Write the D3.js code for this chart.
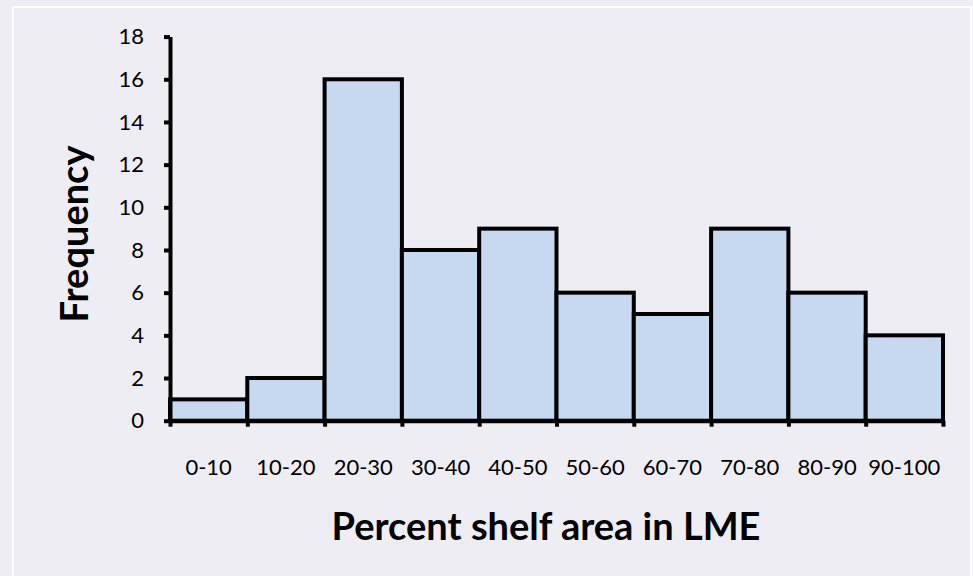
<!DOCTYPE html>
<html lang="en">
<head>
    <meta charset="UTF-8">
    <title>Histogram</title>
    <script src="https://d3js.org/d3.v7.min.js"></script>
    <style>
    body{
        margin: 0;
        background: #eeedf3;
    }
    .axis path,
    .axis line{
        fill: none;
        stroke: black;
        stroke-width: 4px;
    }
    .axis text {
        font-family: Lato, sans-serif;
        font-size: 22px;
        fill: black;
    }
    .bar {
        fill: #c6d9f0;
        stroke: black;
        stroke-width: 4px;
    }
    </style>
</head>
<body>
    <script>
    var width = 973;
    var height = 576;

    // data
    var bins = ["0-10", "10-20", "20-30", "30-40", "40-50", "50-60", "60-70", "70-80", "80-90", "90-100"];
    var counts = [1, 2, 16, 8, 9, 6, 5, 9, 6, 4];
    var yTicks = [0, 2, 4, 6, 8, 10, 12, 14, 16, 18];

    var svg = d3.select("body")
        .append("svg")
        .attr("width", width)
        .attr("height", height);

    // white frame
    svg.append("rect")
        .attr("x", 13)
        .attr("y", 7)
        .attr("width", 958)
        .attr("height", 600)
        .attr("fill", "none")
        .attr("stroke", "white")
        .attr("stroke-width", 2);

    var plotLeft = 170, plotRight = 943, plotTop = 36.6, plotBottom = 420.7;

    var xScale = d3.scaleBand()
        .domain(bins)
        .range([plotLeft, plotRight])
        .padding(0);

    var yScale = d3.scaleLinear()
        .domain([0, 18])
        .range([plotBottom, plotTop]);

    // bars
    svg.selectAll(".bar")
        .data(counts)
        .enter()
        .append("rect")
        .attr("class", "bar")
        .attr("x", function(d, i) { return xScale(bins[i]); })
        .attr("y", function(d) { return yScale(d); })
        .attr("width", xScale.bandwidth())
        .attr("height", function(d) { return plotBottom - yScale(d); });

    // y axis
    var yAxis = d3.axisLeft(yScale)
        .tickValues(yTicks)
        .tickSizeInner(6)
        .tickSizeOuter(0)
        .tickPadding(20);

    svg.append("g")
        .attr("class", "axis")
        .attr("transform", "translate(" + plotLeft + ",0)")
        .call(yAxis);

    // x axis: ticks at bin edges
    var edgeScale = d3.scaleLinear()
        .domain([0, bins.length])
        .range([plotLeft, plotRight]);

    var xAxis = d3.axisBottom(edgeScale)
        .tickValues(d3.range(bins.length + 1))
        .tickSizeInner(6)
        .tickSizeOuter(0)
        .tickFormat("");

    svg.append("g")
        .attr("class", "axis")
        .attr("transform", "translate(0," + plotBottom + ")")
        .call(xAxis);

    // x category labels
    svg.append("g")
        .attr("class", "axis")
        .selectAll("text")
        .data(bins)
        .enter()
        .append("text")
        .attr("x", function(d) { return xScale(d) + xScale.bandwidth() / 2; })
        .attr("y", 475)
        .attr("text-anchor", "middle")
        .text(function(d) { return d; });

    // titles
    svg.append("text")
        .attr("x", 546)
        .attr("y", 540)
        .attr("text-anchor", "middle")
        .attr("font-family", "Lato, sans-serif")
        .attr("font-weight", "bold")
        .attr("font-size", "38px")
        .text("Percent shelf area in LME");

    svg.append("text")
        .attr("transform", "translate(88,234) rotate(-90)")
        .attr("text-anchor", "middle")
        .attr("font-family", "Lato, sans-serif")
        .attr("font-weight", "bold")
        .attr("font-size", "38px")
        .text("Frequency");
    </script>
</body>
</html>
